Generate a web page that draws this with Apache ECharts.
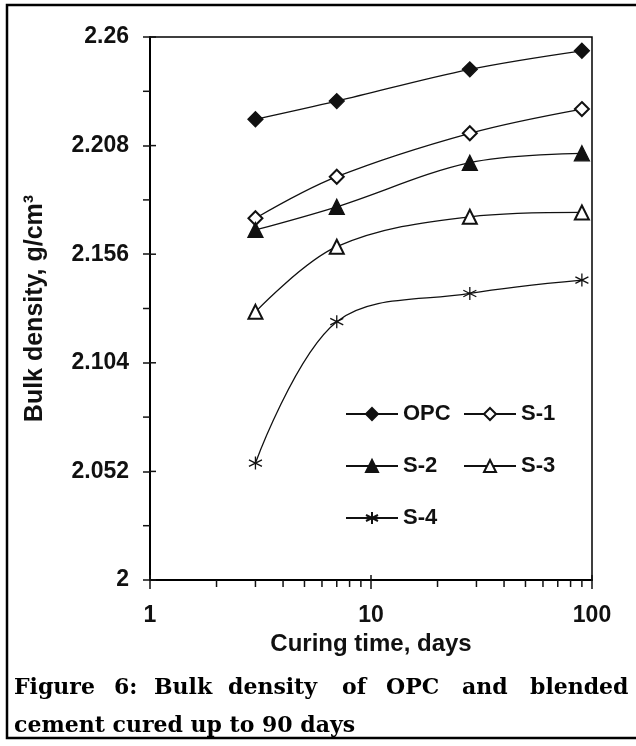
<!DOCTYPE html>
<html>
<head>
<meta charset="utf-8">
<script src="https://cdn.jsdelivr.net/npm/echarts@6/dist/echarts.min.js"></script>
<style>
html,body{margin:0;padding:0;background:#fff;}
#chart{width:636px;height:746px;}
</style>
</head>
<body>
<div id="chart"></div>
<script>
// ---- data ----
const seriesNames = ['OPC', 'S-1', 'S-2', 'S-3', 'S-4'];
const curingDays = [3, 7, 28, 90];
const opcValues = [2.2206, 2.2293, 2.2445, 2.2534];
const s1Values = [2.1732, 2.1931, 2.2139, 2.2255];
const s2Values = [2.1676, 2.1787, 2.1998, 2.2043];
const s3Values = [2.1284, 2.1596, 2.1739, 2.1760];
const s4Values = [2.0560, 2.1237, 2.1372, 2.1436];
const yTickValues = [2, 2.052, 2.104, 2.156, 2.208, 2.26];
const yMinorTickValues = [2.026, 2.078, 2.13, 2.182, 2.234];
const xMajorTickValues = [1, 10, 100];
const xMinorTickValues = [2, 3, 4, 5, 6, 7, 8, 9, 20, 30, 40, 50, 60, 70, 80, 90];

const Y_MIN = 2, Y_MAX = 2.26, X_MIN = 1, X_MAX = 100;
const INK = '#111';
const SANS = '"Liberation Sans", Arial, sans-serif';
const SERIF = '"DejaVu Serif", serif';
const ASTERISK = 'path://M5,0 L5,10 M0.7,2.5 L9.3,7.5 M0.7,7.5 L9.3,2.5';

function pairs(vals) { return curingDays.map((d, i) => [d, vals[i]]); }

function lineSeries(name, vals, symbol, size) {
  return {
    name: name, type: 'line', data: pairs(vals),
    smooth: 0.35, symbol: symbol, symbolSize: size,
    lineStyle: { color: INK, width: 1.3 },
    itemStyle: { color: INK, borderColor: INK, borderWidth: 1.3 },
    z: 5
  };
}

function tickSeries(data, kind, len) {
  return {
    type: 'custom', silent: true, clip: false, z: 4,
    data: data,
    renderItem: function (params, api) {
      const p = api.coord([api.value(0), api.value(1)]);
      let shape;
      if (kind === 'xdown') shape = { x1: p[0], y1: p[1], x2: p[0], y2: p[1] + len };
      else if (kind === 'xup') shape = { x1: p[0], y1: p[1], x2: p[0], y2: p[1] - len };
      else if (kind === 'yleft') shape = { x1: p[0], y1: p[1], x2: p[0] - len, y2: p[1] };
      else shape = { x1: p[0], y1: p[1], x2: p[0] + len, y2: p[1] };
      return { type: 'line', shape: shape, style: { stroke: INK, lineWidth: 1.5 } };
    }
  };
}

const chart = echarts.init(document.getElementById('chart'), null, { renderer: 'canvas' });

// justified first caption line: each word placed at its left edge
const captionWords = [
  ['Figure', 14], ['6:', 114], ['Bulk', 154], ['density', 228],
  ['of', 342], ['OPC', 386], ['and', 462], ['blended', 530]
];
const captionFont = 'bold 22px ' + SERIF;
const graphics = [
  { type: 'rect', shape: { x: 7, y: 5, width: 660, height: 733 },
    style: { fill: 'none', stroke: '#000', lineWidth: 2.5 }, z: 10 }
];
captionWords.forEach(function (w) {
  graphics.push({ type: 'text', x: w[1], y: 677, style: { text: w[0], font: captionFont, fill: '#000', verticalAlign: 'top' }, z: 10 });
});
graphics.push({ type: 'text', x: 14, y: 715, style: { text: 'cement cured up to 90 days', font: captionFont, fill: '#000', verticalAlign: 'top' }, z: 10 });

const legendText = { color: INK, fontSize: 22, fontWeight: 'bold', fontFamily: SANS, lineHeight: 22 };

const option = {
  animation: false,
  backgroundColor: '#fff',
  grid: { left: 150, right: 44, top: 37, bottom: 166, show: true, borderColor: '#000', borderWidth: 1.5, backgroundColor: 'transparent' },
  xAxis: {
    type: 'log', logBase: 10, min: X_MIN, max: X_MAX,
    name: 'Curing time, days', nameLocation: 'middle', nameGap: 50,
    nameTextStyle: { color: INK, fontSize: 24, fontWeight: 'bold', fontFamily: SANS },
    axisLine: { show: true, lineStyle: { color: '#000', width: 2 } },
    axisTick: { show: true, inside: false, length: 9, lineStyle: { color: INK, width: 1.5 } },
    axisLabel: { color: INK, fontSize: 23, fontWeight: 'bold', fontFamily: SANS, margin: 24 },
    minorTick: { show: false },
    splitLine: { show: false }
  },
  yAxis: {
    type: 'value', min: Y_MIN, max: Y_MAX,
    name: 'Bulk density, g/cm³', nameLocation: 'middle', nameGap: 102, nameRotate: 90,
    nameTextStyle: { color: INK, fontSize: 25, fontWeight: 'bold', fontFamily: SANS },
    axisLine: { show: true, lineStyle: { color: '#000', width: 2 } },
    axisTick: { show: true, inside: false, length: 7, customValues: yTickValues, lineStyle: { color: INK, width: 1.5 } },
    axisLabel: { color: INK, fontSize: 23, fontWeight: 'bold', fontFamily: SANS, margin: 21,
      customValues: yTickValues, formatter: function (v) { return String(+(+v).toFixed(3)); } },
    splitLine: { show: false }
  },
  legend: [
    { data: ['OPC', 'S-2', 'S-4'], orient: 'vertical', left: 345, top: 403, padding: 0,
      itemWidth: 52, itemHeight: 15, itemGap: 30, textStyle: legendText, selectedMode: false },
    { data: ['S-1', 'S-3'], orient: 'vertical', left: 463, top: 403, padding: 0,
      itemWidth: 52, itemHeight: 15, itemGap: 30, textStyle: legendText, selectedMode: false }
  ],
  graphic: graphics,
  series: [
    lineSeries(seriesNames[0], opcValues, 'diamond', 15),
    lineSeries(seriesNames[1], s1Values, 'emptyDiamond', 14),
    lineSeries(seriesNames[2], s2Values, 'triangle', 15),
    lineSeries(seriesNames[3], s3Values, 'emptyTriangle', 14),
    lineSeries(seriesNames[4], s4Values, ASTERISK, 13),
    tickSeries(xMinorTickValues.map(v => [v, Y_MIN]), 'xdown', 7),
    tickSeries(xMajorTickValues.map(v => [v, Y_MIN]), 'xup', 5),
    tickSeries(yMinorTickValues.map(v => [X_MIN, v]), 'yleft', 7),
    tickSeries(yTickValues.map(v => [X_MIN, v]), 'yright', 6)
  ]
};
chart.setOption(option);
</script>
</body>
</html>
